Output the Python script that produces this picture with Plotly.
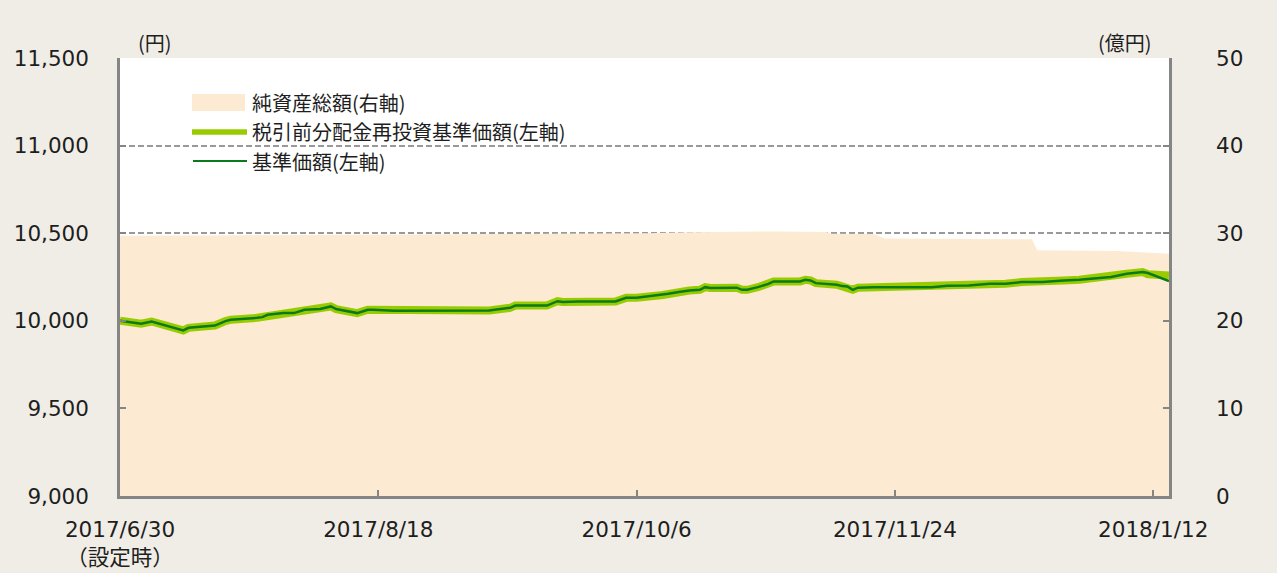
import plotly.graph_objects as go

# ---- data ----
nav_dates = ["2017-06-30", "2017-07-04", "2017-07-06", "2017-07-07", "2017-07-09", "2017-07-12",
             "2017-07-13", "2017-07-15", "2017-07-18", "2017-07-20", "2017-07-21", "2017-07-26",
             "2017-07-27", "2017-07-28", "2017-07-31", "2017-08-02", "2017-08-04", "2017-08-07",
             "2017-08-09", "2017-08-10", "2017-08-14", "2017-08-16", "2017-08-17", "2017-08-21",
             "2017-09-04", "2017-09-08", "2017-09-12", "2017-09-13", "2017-09-19", "2017-09-21",
             "2017-09-22", "2017-09-25", "2017-10-02", "2017-10-04", "2017-10-06", "2017-10-11",
             "2017-10-12", "2017-10-14", "2017-10-16", "2017-10-18", "2017-10-19", "2017-10-20",
             "2017-10-25", "2017-10-26", "2017-10-27", "2017-10-29", "2017-10-31", "2017-11-01",
             "2017-11-06", "2017-11-07", "2017-11-08", "2017-11-09", "2017-11-13", "2017-11-14",
             "2017-11-15", "2017-11-16", "2017-11-17", "2017-11-20", "2017-12-01", "2017-12-04",
             "2017-12-08", "2017-12-12", "2017-12-15", "2017-12-18", "2017-12-22", "2017-12-26",
             "2017-12-29", "2018-01-04", "2018-01-07", "2018-01-10", "2018-01-11", "2018-01-15"]

nav = [10000, 9983, 9996, 9987, 9968, 9945,
       9960, 9966, 9973, 9998, 10006, 10017,
       10021, 10034, 10044, 10044, 10063, 10067,
       10082, 10067, 10044, 10063, 10063, 10057,
       10057, 10059, 10074, 10087, 10087, 10112,
       10107, 10110, 10110, 10131, 10131, 10147,
       10154, 10164, 10173, 10177, 10192, 10187,
       10189, 10177, 10177, 10192, 10211, 10225,
       10225, 10234, 10230, 10215, 10206, 10198,
       10196, 10177, 10189, 10192, 10192, 10200,
       10202, 10211, 10211, 10221, 10221, 10230,
       10234, 10250, 10269, 10278, 10273, 10227]

nav_reinvested = [10000, 9983, 9996, 9987, 9968, 9945,
                  9960, 9966, 9973, 9998, 10006, 10017,
                  10021, 10034, 10044, 10044, 10063, 10067,
                  10082, 10067, 10044, 10063, 10063, 10057,
                  10057, 10059, 10074, 10087, 10087, 10112,
                  10107, 10110, 10110, 10131, 10131, 10147,
                  10154, 10164, 10173, 10177, 10192, 10187,
                  10189, 10177, 10177, 10192, 10211, 10225,
                  10225, 10234, 10230, 10215, 10206, 10198,
                  10196, 10177, 10189, 10192, 10192, 10200,
                  10202, 10211, 10211, 10221, 10221, 10230,
                  10234, 10250, 10269, 10278, 10266, 10258]

aum_dates = ["2017-06-30", "2017-07-20", "2017-08-09", "2017-09-04", "2017-10-08", "2017-10-16",
             "2017-11-02", "2017-11-11", "2017-11-12", "2017-11-20", "2017-11-22", "2017-12-20",
             "2017-12-21", "2018-01-05", "2018-01-10", "2018-01-15"]
aum = [29.70, 29.75, 29.80, 29.90, 30.00, 30.12,
       30.20, 30.15, 29.95, 29.90, 29.40, 29.30,
       28.05, 27.98, 27.80, 27.66]

x_tickvals = ["2017-06-30", "2017-08-18", "2017-10-06", "2017-11-24", "2018-01-12"]
x_ticktext = ["2017/6/30<br>（設定時）", "2017/8/18", "2017/10/6", "2017/11/24", "2018/1/12"]

legend_names = ["純資産総額(右軸)", "税引前分配金再投資基準価額(左軸)", "基準価額(左軸)"]

AREA = "#FCEAD3"
LGREEN = "#99CC00"
DGREEN = "#0B7A1B"
AXIS = "#858585"
TXT = "#1E1E1E"
FONT_NUM = "DejaVu Sans, Noto Sans CJK JP, sans-serif"
FONT_JP = "Noto Sans CJK JP, sans-serif"

fig = go.Figure()
fig.add_trace(go.Scatter(x=aum_dates, y=aum, name=legend_names[0], mode="lines",
                         line=dict(width=0, color=AREA), fill="tozeroy", fillcolor=AREA,
                         yaxis="y", showlegend=False, hoverinfo="skip"))
fig.add_trace(go.Scatter(x=nav_dates, y=nav_reinvested, name=legend_names[1], mode="lines",
                         line=dict(width=8, color=LGREEN), yaxis="y2", showlegend=False))
fig.add_trace(go.Scatter(x=nav_dates, y=nav, name=legend_names[2], mode="lines",
                         line=dict(width=2.5, color=DGREEN), yaxis="y2", showlegend=False))

# custom legend (paper coordinates)
px0, pw, py0, ph = 120, 1049, 496, 438
def xp(px):
    return (px - px0) / pw
def yp(py):
    return (py0 - py) / ph

shapes = [
    dict(type="rect", xref="paper", yref="paper", x0=xp(192), x1=xp(245), y0=yp(111), y1=yp(94),
         fillcolor=AREA, line=dict(width=0), layer="above"),
    dict(type="line", xref="paper", yref="paper", x0=xp(192), x1=xp(247), y0=yp(132), y1=yp(132),
         line=dict(color=LGREEN, width=5.5), layer="above"),
    dict(type="line", xref="paper", yref="paper", x0=xp(193), x1=xp(247), y0=yp(161), y1=yp(161),
         line=dict(color=DGREEN, width=2), layer="above"),
]
annotations = []
for name, ty in zip(legend_names, [102, 131, 161]):
    annotations.append(dict(x=xp(250), y=yp(ty), xref="paper", yref="paper", text=name,
                            showarrow=False, xanchor="left", yanchor="middle",
                            font=dict(family=FONT_JP, size=20, color=TXT)))
annotations.append(dict(x=xp(155), y=yp(42), xref="paper", yref="paper", text="(円)",
                        showarrow=False, xanchor="center", yanchor="middle",
                        font=dict(family=FONT_JP, size=20, color=TXT)))
annotations.append(dict(x=xp(1125), y=yp(42), xref="paper", yref="paper", text="(億円)",
                        showarrow=False, xanchor="center", yanchor="middle",
                        font=dict(family=FONT_JP, size=20, color=TXT)))

TICKFONT = dict(family=FONT_NUM, size=21.5, color=TXT)

fig.update_layout(
    width=1277, height=573,
    paper_bgcolor="#F0EDE6", plot_bgcolor="#FFFFFF",
    margin=dict(l=120, r=108, t=58, b=77, autoexpand=False),
    showlegend=False,
    font=dict(family=FONT_NUM, size=20, color=TXT),
    xaxis=dict(type="date", range=["2017-06-30", "2018-01-15"],
               tickvals=x_tickvals, ticktext=x_ticktext, automargin=False,
               ticks="inside", ticklen=6, tickwidth=1.5, tickcolor=AXIS,
               showline=True, linecolor=AXIS, linewidth=2.5, showgrid=False, zeroline=False,
               ticklabelstandoff=12, tickfont=TICKFONT),
    yaxis=dict(side="right", range=[0, 50], tickvals=[0, 10, 20, 30, 40, 50], automargin=False,
               ticks="inside", ticklen=6, tickwidth=1.5, tickcolor=AXIS,
               showline=True, linecolor=AXIS, linewidth=2.5,
               showgrid=True, gridcolor="#999999", gridwidth=1.5, griddash="6px,3px",
               zeroline=False, ticklabelstandoff=40, tickfont=TICKFONT),
    yaxis2=dict(side="left", overlaying="y", range=[9000, 11500], automargin=False,
                tickvals=[9000, 9500, 10000, 10500, 11000, 11500], tickformat=",",
                ticks="inside", ticklen=6, tickwidth=1.5, tickcolor=AXIS,
                showline=True, linecolor=AXIS, linewidth=2.5,
                showgrid=False, zeroline=False, ticklabelstandoff=24, tickfont=TICKFONT),
    shapes=shapes,
    annotations=annotations,
)

fig.write_html("out.html", config={"displayModeBar": False},
               post_script="document.body.style.margin='0px';")
